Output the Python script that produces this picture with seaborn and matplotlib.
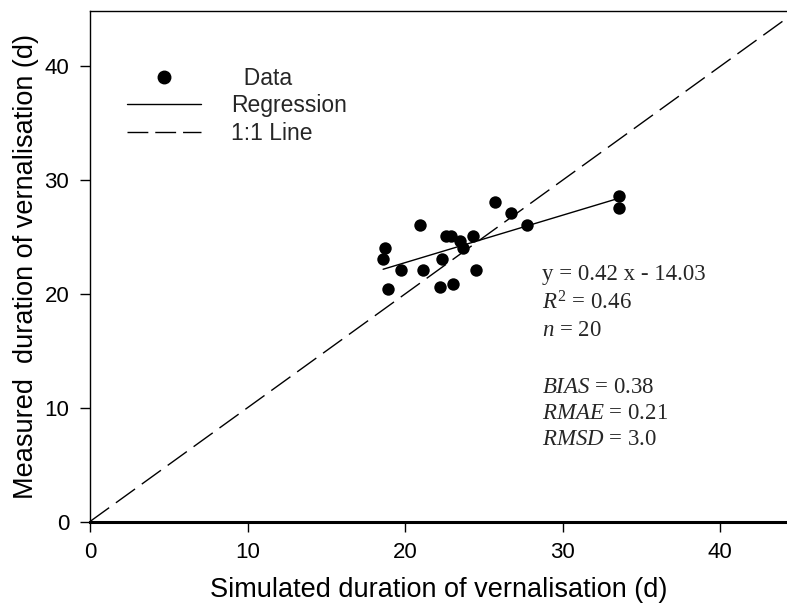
import numpy as np
import pandas as pd
import matplotlib
matplotlib.use("Agg")
import matplotlib.pyplot as plt
from matplotlib.lines import Line2D
import seaborn as sns

# ---- data ----
simulated = [25.70, 26.70, 27.72, 20.92, 22.63, 22.93, 24.30, 23.52, 23.69, 18.71,
             18.61, 22.36, 19.77, 21.13, 24.48, 18.90, 22.25, 23.03, 33.60, 33.60]
measured = [28.07, 27.11, 26.10, 26.08, 25.08, 25.08, 25.11, 24.67, 24.08, 24.08,
            23.09, 23.09, 22.12, 22.12, 22.12, 20.42, 20.62, 20.89, 28.60, 27.60]
oneone_x = [0, 44]
oneone_y = [0, 44]
x_ticks = [0, 10, 20, 30, 40]
y_ticks = [0, 10, 20, 30, 40]
stats_lines = ["y = 0.42 x - 14.03", r"$R^2$ = 0.46", r"$n$ = 20",
               r"$BIAS$ = 0.38", r"$RMAE$ = 0.21", r"$RMSD$ = 3.0"]
legend_labels = ["  Data", "Regression", "1:1 Line"]

df = pd.DataFrame({"sim": simulated, "meas": measured})

sns.set_style("ticks")
plt.rcParams["font.family"] = ["Liberation Sans", "DejaVu Sans"]
plt.rcParams["mathtext.fontset"] = "custom"
plt.rcParams["mathtext.rm"] = "Liberation Serif"
plt.rcParams["mathtext.it"] = "Liberation Serif:italic"

fig = plt.figure(figsize=(7.87, 6.07), dpi=100)
ax = fig.add_axes([90 / 787, 1 - 521.5 / 607, 697 / 787, 510.8 / 607])

sns.lineplot(x=oneone_x, y=oneone_y, ax=ax, color="black", lw=1.0, legend=False)
ax.lines[-1].set_dashes((17, 6))
sns.regplot(data=df, x="sim", y="meas", ax=ax, scatter=False, ci=None,
            truncate=True, line_kws=dict(color="black", lw=1.0))
sns.scatterplot(data=df, x="sim", y="meas", ax=ax, color="black", s=80,
                edgecolor="black", linewidth=0, zorder=5)

ax.set_xlim(0, 44.25)
ax.set_ylim(0, 44.9)
ax.set_xticks(x_ticks)
ax.set_yticks(y_ticks)
ax.tick_params(axis="both", labelsize=16, length=7, width=1, direction="out",
               color="black", labelcolor="black", pad=8)
ax.set_xlabel("Simulated duration of vernalisation (d)", fontsize=19.5,
              labelpad=10, color="black")
ax.set_ylabel("Measured  duration of vernalisation (d)", fontsize=19.5,
              labelpad=4, color="black")

for s in ["left", "top"]:
    ax.spines[s].set_linewidth(1.0)
    ax.spines[s].set_color("black")
ax.spines["bottom"].set_linewidth(2.2)
ax.spines["bottom"].set_color("black")
ax.spines["right"].set_visible(False)

# statistics text
ys = [0.4826, 0.4278, 0.3749, 0.2633, 0.2124, 0.1596]
for t, yy in zip(stats_lines, ys):
    ax.text(0.649, yy, t, transform=ax.transAxes, fontsize=16.5,
            family="Liberation Serif", va="center", ha="left")

handles = [
    Line2D([], [], color="black", marker="o", linestyle="none", markersize=9),
    Line2D([], [], color="black", lw=1.0),
    Line2D([], [], color="black", lw=1.0, dashes=(15, 5)),
]
ax.legend(handles, legend_labels, loc="upper left", bbox_to_anchor=(0.053, 0.89),
          frameon=False, fontsize=16.5, handlelength=3.25, handletextpad=1.3,
          labelspacing=0.2, borderpad=0, borderaxespad=0)

fig.savefig("out.png", dpi=100)
